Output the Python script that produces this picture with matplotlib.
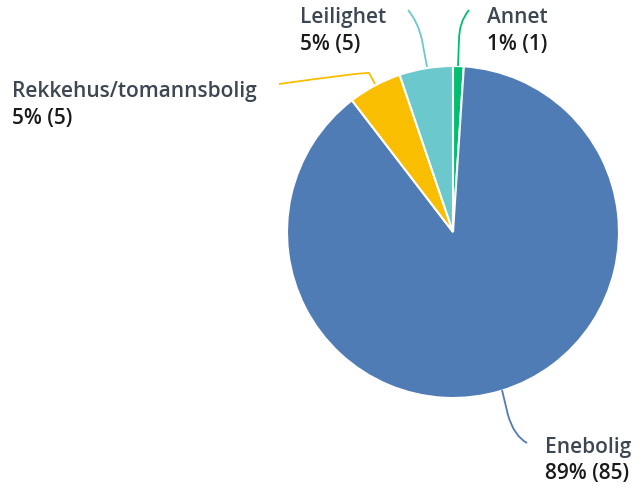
import matplotlib.pyplot as plt
from matplotlib.path import Path
from matplotlib.patches import PathPatch

# svar per boligtype, i rekkefølge med klokka fra toppen
categories = ['Annet', 'Enebolig', 'Rekkehus/tomannsbolig', 'Leilighet']
counts = [1, 85, 5, 5]
colors = ['#00bf6f', '#507cb6', '#f9be00', '#6bc8cd']

W, H = 637, 491
fig = plt.figure(figsize=(W / 100, H / 100), dpi=100)
ax = fig.add_axes([0, 0, 1, 1])

ax.pie(counts, colors=colors, startangle=90, counterclock=False,
       center=(453, H - 232), radius=166,
       wedgeprops=dict(edgecolor='white', linewidth=1.5))

ax.set_xlim(0, W)
ax.set_ylim(0, H)
ax.set_aspect('equal')
ax.axis('off')

total = sum(counts)
pcts = [round(100 * c / total) for c in counts]

# plassering av etiketter (piksel, fra toppen) og ledelinjer
label_pos = {'Annet': (487, 17), 'Enebolig': (545, 447),
             'Rekkehus/tomannsbolig': (12, 91), 'Leilighet': (300, 17)}
leaders = {
    'Annet': [(458, 66), (459, 40), (459, 22), (469, 10)],
    'Enebolig': [(502, 390), (508, 415), (514, 436), (527, 443)],
    'Rekkehus/tomannsbolig': [(375, 84), (369, 73), (365, 72), (279, 84)],
    'Leilighet': [(427, 67), (422, 40), (418, 22), (408, 10)],
}

for name, c, p, col in zip(categories, counts, pcts, colors):
    x, y = label_pos[name]
    ax.text(x, H - y, name, fontsize=15, fontweight='semibold',
            family='Open Sans', color='#3c4752', va='center', ha='left')
    ax.text(x, H - y - 27, f'{p}% ({c})', fontsize=15, fontweight='semibold',
            family='Open Sans', color='#1a1a1a', va='center', ha='left')
    pts = [(px, H - py) for px, py in leaders[name]]
    path = Path(pts, [Path.MOVETO, Path.LINETO, Path.CURVE3, Path.CURVE3])
    ax.add_patch(PathPatch(path, facecolor='none', edgecolor=col, lw=1.3))

fig.savefig('out.png', dpi=100)
